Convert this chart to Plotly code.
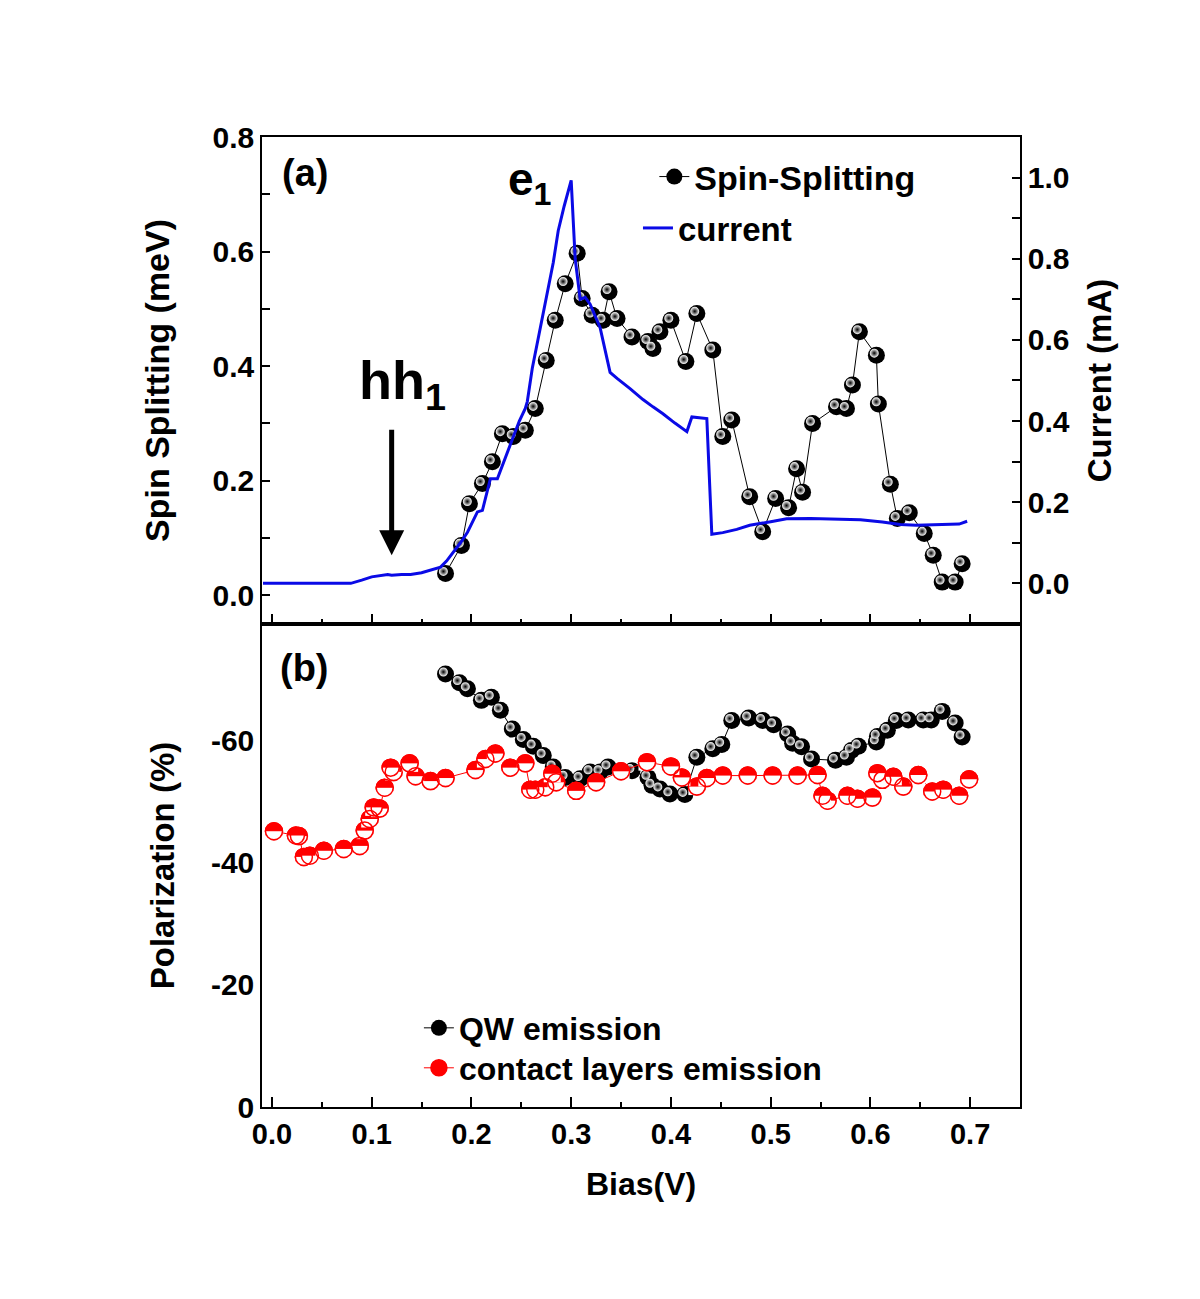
import plotly.graph_objects as go

# ---------------- data ----------------
# Panel (a): current (mA) vs bias (V)
cur_bias = [-0.009, 0.05, 0.079, 0.09, 0.10, 0.116, 0.12, 0.13, 0.139, 0.15, 0.159, 0.169, 0.175,
            0.182, 0.189, 0.196, 0.206, 0.211, 0.219, 0.226, 0.234, 0.242, 0.248, 0.254, 0.256,
            0.261, 0.267, 0.272, 0.277, 0.282, 0.287, 0.293, 0.30, 0.304, 0.309, 0.314, 0.319,
            0.329, 0.339, 0.346, 0.359, 0.372, 0.382, 0.392, 0.404, 0.416, 0.421, 0.436, 0.441,
            0.452, 0.466, 0.479, 0.50, 0.516, 0.54, 0.562, 0.59, 0.612, 0.63, 0.646, 0.67, 0.689, 0.697]
cur_mA = [0.0, 0.0, 0.0, 0.008, 0.016, 0.022, 0.020, 0.022, 0.022, 0.026, 0.032, 0.04, 0.055,
          0.077, 0.10, 0.126, 0.176, 0.18, 0.258, 0.258, 0.31, 0.366, 0.40, 0.431, 0.448,
          0.53, 0.604, 0.665, 0.728, 0.79, 0.869, 0.93, 0.993, 0.80, 0.70, 0.705, 0.688,
          0.63, 0.52, 0.505, 0.48, 0.453, 0.435, 0.418, 0.395, 0.374, 0.41, 0.406, 0.121,
          0.125, 0.133, 0.143, 0.152, 0.159, 0.16, 0.159, 0.157, 0.151, 0.145, 0.143, 0.145, 0.146, 0.153]

# Panel (a): spin splitting (meV)
ss_bias = [0.174, 0.190, 0.198, 0.211, 0.221, 0.231, 0.242, 0.254, 0.264, 0.275, 0.284, 0.294,
           0.306, 0.311, 0.321, 0.332, 0.338, 0.346, 0.361, 0.377, 0.382, 0.389, 0.400, 0.415,
           0.426, 0.442, 0.452, 0.461, 0.479, 0.492, 0.505, 0.518, 0.526, 0.532, 0.542, 0.566,
           0.576, 0.582, 0.589, 0.606, 0.608, 0.620, 0.627, 0.639, 0.654, 0.663, 0.672, 0.685, 0.692]
ss_meV = [0.038, 0.087, 0.160, 0.195, 0.233, 0.282, 0.277, 0.288, 0.326, 0.410, 0.480, 0.544,
          0.597, 0.518, 0.489, 0.480, 0.530, 0.483, 0.451, 0.443, 0.431, 0.460, 0.480, 0.408,
          0.492, 0.428, 0.277, 0.306, 0.172, 0.111, 0.169, 0.153, 0.221, 0.180, 0.300, 0.329,
          0.326, 0.367, 0.460, 0.419, 0.334, 0.194, 0.134, 0.144, 0.108, 0.070, 0.023, 0.023, 0.055]

# Panel (b): QW emission polarization (%)
qw_bias = [0.174, 0.188, 0.196, 0.210, 0.220, 0.229, 0.241, 0.252, 0.262, 0.272, 0.282, 0.294,
           0.309, 0.319, 0.329, 0.337, 0.361, 0.377, 0.381, 0.389, 0.399, 0.414, 0.426, 0.442,
           0.451, 0.461, 0.478, 0.492, 0.503, 0.517, 0.522, 0.531, 0.541, 0.565, 0.576, 0.581,
           0.588, 0.606, 0.607, 0.617, 0.626, 0.638, 0.653, 0.661, 0.672, 0.685, 0.692]
qw_pol = [-70.8, -69.4, -68.4, -66.5, -67.0, -64.9, -61.8, -60.1, -59.0, -57.5, -55.6, -53.9,
          -53.7, -54.8, -54.8, -55.6, -55.0, -53.9, -52.6, -52.0, -51.2, -51.1, -57.2, -58.6,
          -59.3, -63.2, -63.6, -63.2, -62.5, -61.0, -59.5, -58.9, -56.9, -56.7, -57.2, -58.3,
          -59.0, -59.7, -60.6, -61.6, -63.2, -63.3, -63.3, -63.3, -64.7, -62.8, -60.5]

# Panel (b): contact layers emission polarization (%)
cl_bias = [0.002, 0.024, 0.027, 0.032, 0.038, 0.052, 0.072, 0.088, 0.093, 0.098, 0.102, 0.108,
           0.113, 0.119, 0.122, 0.138, 0.144, 0.159, 0.174, 0.204, 0.214, 0.224, 0.239, 0.254,
           0.259, 0.264, 0.274, 0.281, 0.285, 0.305, 0.325, 0.350, 0.376, 0.400, 0.411, 0.426,
           0.436, 0.452, 0.477, 0.502, 0.527, 0.547, 0.552, 0.557, 0.577, 0.587, 0.602, 0.607,
           0.612, 0.623, 0.633, 0.648, 0.662, 0.673, 0.689, 0.699]
cl_pol = [-45.1, -44.4, -44.3, -40.9, -41.1, -41.9, -42.2, -42.7, -45.2, -47.1, -49.0, -48.8,
          -52.2, -55.5, -54.8, -56.2, -54.1, -53.3, -53.8, -55.1, -56.9, -57.8, -55.5, -56.2,
          -51.9, -51.9, -52.3, -54.5, -53.1, -51.7, -53.1, -54.9, -56.4, -55.7, -53.9, -52.4,
          -53.8, -54.2, -54.2, -54.2, -54.2, -54.3, -50.9, -50.1, -50.9, -50.4, -50.6, -54.6,
          -53.5, -54.0, -52.4, -54.3, -51.6, -51.9, -50.9, -53.6]

# tick labels
x_ticks = [0.0, 0.1, 0.2, 0.3, 0.4, 0.5, 0.6, 0.7]
x_ticktext = ["0.0", "0.1", "0.2", "0.3", "0.4", "0.5", "0.6", "0.7"]
ss_ticks = [0.0, 0.2, 0.4, 0.6, 0.8]
ss_ticktext = ["0.0", "0.2", "0.4", "0.6", "0.8"]
cur_ticks = [0.0, 0.2, 0.4, 0.6, 0.8, 1.0]
cur_ticktext = ["0.0", "0.2", "0.4", "0.6", "0.8", "1.0"]
pol_ticks = [0, -20, -40, -60]
pol_ticktext = ["0", "-20", "-40", "-60"]

# ---------------- style ----------------
FONT = "Liberation Sans, Arial, sans-serif"
MS = 17  # marker size


def bf(size, family=FONT, color="black"):
    return dict(family=family, size=size, color=color, weight="bold")


fig = go.Figure()

# --- panel (a) ---
fig.add_trace(go.Scatter(
    x=ss_bias, y=ss_meV, xaxis="x2", yaxis="y2", mode="lines+markers",
    name="Spin-Splitting", legend="legend",
    line=dict(color="black", width=1),
    marker=dict(size=MS, color="black", line=dict(width=0)),
))
fig.add_trace(go.Scatter(
    x=ss_bias, y=ss_meV, xaxis="x2", yaxis="y2", mode="markers", showlegend=False,
    marker=dict(size=9, color="white", line=dict(width=0), angle=135, standoff=3,
                gradient=dict(type="radial", color="black")),
    hoverinfo="skip",
))
fig.add_trace(go.Scatter(
    x=cur_bias, y=cur_mA, xaxis="x2", yaxis="y3", mode="lines",
    name="current", legend="legend2",
    line=dict(color="#0a0ae6", width=3),
))

# --- panel (b) ---
fig.add_trace(go.Scatter(
    x=qw_bias, y=qw_pol, xaxis="x", yaxis="y", mode="lines+markers",
    name="QW emission", legend="legend3",
    line=dict(color="black", width=1),
    marker=dict(size=MS, color="black", line=dict(width=0)),
))
fig.add_trace(go.Scatter(
    x=qw_bias, y=qw_pol, xaxis="x", yaxis="y", mode="markers", showlegend=False,
    marker=dict(size=9, color="white", line=dict(width=0), angle=135, standoff=3,
                gradient=dict(type="radial", color="black")),
    hoverinfo="skip",
))
fig.add_trace(go.Scatter(
    x=cl_bias, y=cl_pol, xaxis="x", yaxis="y", mode="lines+markers",
    name="contact layers emission", legend="legend4",
    line=dict(color="red", width=1),
    marker=dict(size=MS, color="red", line=dict(color="red", width=1.5)),
))
# white lower half
fig.add_trace(go.Scatter(
    x=cl_bias, y=cl_pol, xaxis="x", yaxis="y", mode="markers", showlegend=False,
    marker=dict(symbol="line-ew", size=MS / 1.4, color="white",
                line=dict(color="white", width=MS / 2), standoff=MS / 4),
    hoverinfo="skip",
))
# red outline
fig.add_trace(go.Scatter(
    x=cl_bias, y=cl_pol, xaxis="x", yaxis="y", mode="markers", showlegend=False,
    marker=dict(symbol="circle-open", size=MS, color="red", line=dict(color="red", width=1.5)),
    hoverinfo="skip",
))

axis_common = dict(showline=True, linecolor="black", linewidth=1.5, showgrid=False,
                   zeroline=False, tickcolor="black", tickwidth=1.5)

SPLIT = 0.498

fig.update_layout(
    width=1192, height=1291,
    margin=dict(l=254, r=180, t=129, b=192),
    paper_bgcolor="white", plot_bgcolor="white",
    font=bf(28),
    xaxis=dict(**axis_common, ticks="inside", domain=[0, 1], anchor="y", range=[-0.01, 0.75],
               tickvals=x_ticks, ticktext=x_ticktext, ticklen=10,
               minor=dict(dtick=0.05, tick0=0, ticklen=5, ticks="inside", tickcolor="black", tickwidth=1.5),
               mirror=True, tickfont=bf(29),
               title=dict(text="Bias(V)", font=bf(32), standoff=24)),
    yaxis=dict(**axis_common, ticks="", domain=[0, SPLIT], anchor="x", range=[0, -79],
               tickvals=pol_ticks, ticktext=pol_ticktext,
               mirror=True, tickfont=bf(30),
               title=dict(text="Polarization (%)", font=bf(33), standoff=26)),
    xaxis2=dict(**axis_common, ticks="inside", domain=[0, 1], anchor="y2", matches="x", range=[-0.01, 0.75],
                tickvals=x_ticks, ticklen=10, showticklabels=False,
                minor=dict(dtick=0.05, tick0=0, ticklen=5, ticks="inside", tickcolor="black", tickwidth=1.5),
                mirror=True),
    yaxis2=dict(**axis_common, ticks="inside", domain=[SPLIT, 1], anchor="x2", range=[-0.05, 0.8],
                tickvals=ss_ticks, ticktext=ss_ticktext, ticklen=8,
                minor=dict(dtick=0.1, tick0=0, ticklen=8, ticks="inside", tickcolor="black", tickwidth=1.5),
                tickfont=bf(30),
                title=dict(text="Spin Splitting (meV)", font=bf(34), standoff=33)),
    yaxis3=dict(**axis_common, ticks="inside", overlaying="y2", side="right", anchor="x2", range=[-0.1, 1.1],
                tickvals=cur_ticks, ticktext=cur_ticktext, ticklen=8,
                minor=dict(dtick=0.1, tick0=0, ticklen=8, ticks="inside", tickcolor="black", tickwidth=1.5),
                tickfont=bf(30),
                title=dict(text="Current (mA)", font=bf(33), standoff=19)),
    legend=dict(x=0.5176, y=0.9588, xanchor="left", yanchor="middle", bgcolor="rgba(0,0,0,0)",
                font=bf(34)),
    legend2=dict(x=0.496, y=0.9062, xanchor="left", yanchor="middle", bgcolor="rgba(0,0,0,0)",
                 font=bf(33)),
    legend3=dict(x=0.207, y=0.0814, xanchor="left", yanchor="middle", bgcolor="rgba(0,0,0,0)",
                 font=bf(32)),
    legend4=dict(x=0.207, y=0.0402, xanchor="left", yanchor="middle", bgcolor="rgba(0,0,0,0)",
                 font=bf(32)),
    showlegend=True,
)

fig.add_annotation(text="(a)", xref="paper", yref="paper", x=0.0567, y=0.963,
                   xanchor="center", yanchor="middle", showarrow=False, font=bf(38))
fig.add_annotation(text="(b)", xref="paper", yref="paper", x=0.0567, y=0.4526,
                   xanchor="center", yanchor="middle", showarrow=False, font=bf(38))
fig.add_annotation(text="e<sub>1</sub>", xref="paper", yref="paper", x=0.3536, y=0.9536,
                   xanchor="center", yanchor="middle", showarrow=False, font=bf(46))
fig.add_annotation(text="hh<sub>1</sub>", xref="paper", yref="paper", x=0.1850, y=0.745,
                   xanchor="center", yanchor="middle", showarrow=False, font=bf(54))
fig.add_annotation(text="", xref="x2", yref="y2", x=0.12, y=0.07, ax=0, ay=-127,
                   showarrow=True, arrowhead=2, arrowsize=1, arrowwidth=5, arrowcolor="black")

fig.write_html("out.html")
